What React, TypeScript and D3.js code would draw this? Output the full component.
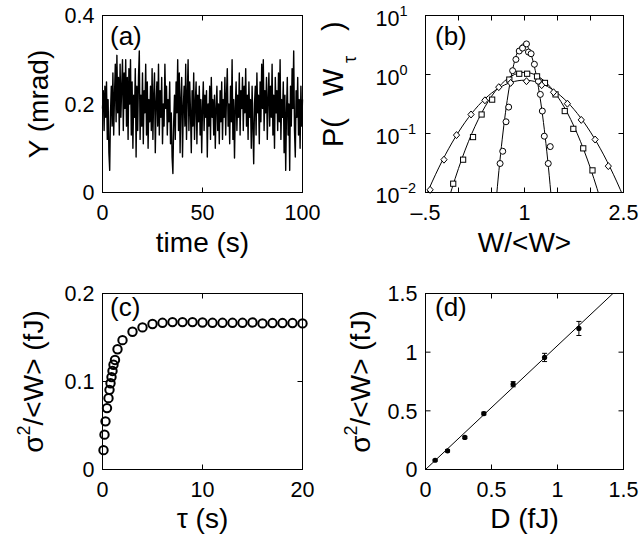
import React from 'react';
import * as d3 from 'd3';

const FONT = '"Liberation Sans", Arial, Helvetica, sans-serif';
const TICK = 5;

// (a) Y(t) trace, one value every 0.4 s
const traceDt = 0.4;
const traceY = [
  0.19, 0.23, 0.14, 0.24, 0.17, 0.25, 0.12, 0.21, 0.09, 0.05,
  0.18, 0.24, 0.15, 0.27, 0.13, 0.22, 0.29, 0.16, 0.31, 0.18,
  0.26, 0.13, 0.29, 0.17, 0.24, 0.30, 0.14, 0.27, 0.19, 0.30,
  0.15, 0.26, 0.12, 0.28, 0.20, 0.30, 0.13, 0.25, 0.10, 0.22,
  0.17, 0.28, 0.08, 0.24, 0.14, 0.26, 0.32, 0.12, 0.22, 0.15,
  0.27, 0.11, 0.23, 0.18, 0.29, 0.13, 0.25, 0.10, 0.21, 0.16,
  0.24, 0.14, 0.28, 0.12, 0.22, 0.27, 0.09, 0.20, 0.25, 0.15,
  0.29, 0.13, 0.23, 0.17, 0.26, 0.11, 0.20, 0.15, 0.29, 0.19,
  0.24, 0.13, 0.21, 0.16, 0.25, 0.11, 0.18, 0.08, 0.043, 0.16,
  0.22, 0.12, 0.25, 0.18, 0.30, 0.14, 0.27, 0.09, 0.21, 0.26,
  0.08, 0.19, 0.24, 0.15, 0.29, 0.12, 0.22, 0.30, 0.14, 0.25,
  0.18, 0.09, 0.23, 0.15, 0.27, 0.12, 0.20, 0.25, 0.11, 0.22,
  0.16, 0.24, 0.13, 0.21, 0.09, 0.19, 0.25, 0.14, 0.22, 0.17,
  0.23, 0.08, 0.20, 0.15, 0.24, 0.12, 0.26, 0.17, 0.21, 0.13,
  0.22, 0.10, 0.19, 0.24, 0.14, 0.20, 0.11, 0.23, 0.16, 0.25,
  0.12, 0.21, 0.17, 0.26, 0.13, 0.22, 0.28, 0.15, 0.20, 0.11,
  0.24, 0.16, 0.30, 0.12, 0.21, 0.078, 0.19, 0.25, 0.14, 0.22,
  0.17, 0.27, 0.13, 0.23, 0.19, 0.26, 0.14, 0.24, 0.18, 0.28,
  0.15, 0.22, 0.12, 0.25, 0.17, 0.21, 0.10, 0.24, 0.15, 0.065,
  0.20, 0.24, 0.13, 0.27, 0.18, 0.22, 0.11, 0.25, 0.16, 0.29,
  0.19, 0.30, 0.14, 0.23, 0.18, 0.26, 0.12, 0.21, 0.27, 0.15,
  0.24, 0.17, 0.29, 0.13, 0.22, 0.10, 0.26, 0.18, 0.23, 0.14,
  0.27, 0.16, 0.30, 0.12, 0.21, 0.17, 0.25, 0.09, 0.22, 0.05,
  0.18, 0.26, 0.13, 0.20, 0.05, 0.24, 0.15, 0.28, 0.19, 0.32,
  0.14, 0.08, 0.23, 0.17, 0.26, 0.13, 0.21, 0.10, 0.24, 0.15, 0.21,
];
const aXTicks = [0, 50, 100];
const aYTicks = [0, 0.2, 0.4];

// (b) P(W_tau), three integration times
const circX = [0.63, 0.67, 0.72, 0.76, 0.82, 0.87, 0.92, 0.97, 1.03, 1.06, 1.10, 1.15, 1.21, 1.24, 1.27, 1.30, 1.36, 1.39];
const circP = [0.031, 0.050, 0.158, 0.28, 1.16, 1.8, 2.5, 2.8, 3.3, 2.4, 2.25, 1.49, 0.77, 0.46, 0.24, 0.090, 0.031, 0.060];
const sqX = [-0.08, 0.07, 0.22, 0.35, 0.51, 0.77, 0.92, 1.04, 1.19, 1.31, 1.47, 1.61, 1.74, 1.89, 2.03];
const sqP = [0.0141, 0.036, 0.087, 0.21, 0.375, 0.82, 1.03, 1.03, 0.93, 0.72, 0.46, 0.24, 0.12, 0.056, 0.0237];
const diaX = [-0.43, -0.22, -0.03, 0.19, 0.40, 0.61, 0.79, 1.03, 1.26, 1.44, 1.65, 1.86, 2.07, 2.27];
const diaP = [0.0111, 0.036, 0.094, 0.21, 0.365, 0.61, 0.72, 0.77, 0.66, 0.50, 0.32, 0.170, 0.079, 0.028];
const fitNarrowX = [0.55, 0.58, 0.60, 0.65, 0.70, 0.75, 0.80, 0.85, 0.90, 0.95, 0.99, 1.05, 1.10, 1.15, 1.20, 1.25, 1.30, 1.35, 1.40, 1.43];
const fitNarrowP = [0.004, 0.0096, 0.0169, 0.060, 0.179, 0.449, 0.948, 1.68, 2.51, 3.14, 3.32, 2.93, 2.18, 1.36, 0.718, 0.317, 0.118, 0.0369, 0.0096, 0.004];
const fitMidX = [-0.25, -0.1, 0, 0.2, 0.4, 0.6, 0.8, 1.0, 1.2, 1.4, 1.6, 1.8, 2.0, 2.1, 2.25];
const fitMidP = [0.0031, 0.0116, 0.0256, 0.0988, 0.282, 0.598, 0.938, 1.09, 0.938, 0.598, 0.282, 0.0988, 0.0256, 0.0116, 0.0031];
const fitWideX = [-0.6, -0.4, -0.2, 0, 0.2, 0.4, 0.6, 0.8, 1.0, 1.2, 1.4, 1.6, 1.8, 2.0, 2.2, 2.4, 2.6];
const fitWideP = [0.0045, 0.0151, 0.0434, 0.1057, 0.219, 0.386, 0.579, 0.738, 0.80, 0.738, 0.579, 0.386, 0.219, 0.1057, 0.0434, 0.0151, 0.0045];
const bXTicks = [-0.5, 0, 0.5, 1, 1.5, 2, 2.5];
const bXLabels: Record<string, string> = { '-0.5': '\u2013.5', '1': '1', '2.5': '2.5' };
const bYTicks = [0.01, 0.1, 1, 10];
const bYExp = ['\u22122', '\u22121', '0', '1'];

// (c) sigma^2/<W> vs tau
const tauS = [0.1, 0.2, 0.3, 0.45, 0.6, 0.7, 0.8, 0.9, 1.0, 1.1, 1.25, 1.5, 2, 3, 4, 5, 6, 7, 8, 9, 10, 11, 12, 13, 14, 15, 16, 17, 18, 19, 20];
const varC = [0.022, 0.0396, 0.0547, 0.0698, 0.0811, 0.0905, 0.098, 0.105, 0.112, 0.119, 0.1245, 0.1366, 0.147, 0.1565, 0.1615, 0.1653,
  0.1667, 0.1675, 0.1675, 0.1675, 0.1671, 0.1667, 0.1667, 0.1667, 0.1667, 0.1671, 0.166, 0.1664, 0.1664, 0.1664, 0.166];
const cXTicks = [0, 10, 20];
const cYTicks = [0, 0.1, 0.2];

// (d) sigma^2/<W> vs D
const dX = [0.073, 0.167, 0.298, 0.442, 0.664, 0.902, 1.162];
const dY = [0.079, 0.159, 0.273, 0.477, 0.727, 0.955, 1.202];
const dErr = [0.008, 0.01, 0.01, 0.012, 0.022, 0.035, 0.06];
const fitDX = [0, 1.42];
const fitDY = [0, 1.5];
const dTicks = [0, 0.5, 1, 1.5];

const PA = { l: 102.5, r: 302.5, t: 15.5, b: 192.5 };
const PB = { l: 425.5, r: 623.5, t: 15.5, b: 192.5 };
const PC = { l: 102.5, r: 302.5, t: 293.5, b: 469.5 };
const PD = { l: 425.5, r: 623.5, t: 293.5, b: 469.5 };

function Frame({ x, y, xTicks, yTicks }: any) {
  const [x0, x1] = x.range();
  const [y0, y1] = y.range();
  return (
    <g stroke="#000" strokeWidth={1} fill="none">
      <rect x={x0} y={y1} width={x1 - x0} height={y0 - y1} />
      {xTicks.map((t: number) => (
        <g key={'x' + t}>
          <line x1={x(t)} x2={x(t)} y1={y0} y2={y0 - TICK} />
          <line x1={x(t)} x2={x(t)} y1={y1} y2={y1 + TICK} />
        </g>
      ))}
      {yTicks.map((t: number) => (
        <g key={'y' + t}>
          <line x1={x0} x2={x0 + TICK} y1={y(t)} y2={y(t)} />
          <line x1={x1} x2={x1 - TICK} y1={y(t)} y2={y(t)} />
        </g>
      ))}
    </g>
  );
}

function TickLabels({ x, y, xTicks, yTicks, xFmt = String, yFmt = String }: any) {
  const [x0] = x.range();
  const [y0] = y.range();
  return (
    <g fontSize={21.5} fill="#000">
      {xTicks.map((t: number) => (
        <text key={'x' + t} x={x(t)} y={y0 + 27} textAnchor="middle">{xFmt(t)}</text>
      ))}
      {yTicks.map((t: number) => (
        <text key={'y' + t} x={x0 - 8} y={y(t)} dy="0.36em" textAnchor="end">{yFmt(t)}</text>
      ))}
    </g>
  );
}

export default function App() {
  // (a)
  const xa = d3.scaleLinear().domain([0, 100]).range([PA.l, PA.r]);
  const ya = d3.scaleLinear().domain([0, 0.4]).range([PA.b, PA.t]);
  const tracePath = d3.line<number>().x((_, i) => xa(i * traceDt)).y((v) => ya(v))(traceY) || '';

  // (b)
  const xb = d3.scaleLinear().domain([-0.5, 2.5]).range([PB.l, PB.r]);
  const yb = d3.scaleLog().domain([0.01, 10]).range([PB.b, PB.t]);
  const fitLine = d3.line<[number, number]>().x((d) => xb(d[0])).y((d) => yb(d[1])).curve(d3.curveMonotoneX);
  const fits = [
    d3.zip(fitNarrowX, fitNarrowP),
    d3.zip(fitMidX, fitMidP),
    d3.zip(fitWideX, fitWideP),
  ] as [number, number][][];

  // (c)
  const xc = d3.scaleLinear().domain([0, 20]).range([PC.l, PC.r]);
  const yc = d3.scaleLinear().domain([0, 0.2]).range([PC.b, PC.t]);

  // (d)
  const xd = d3.scaleLinear().domain([0, 1.5]).range([PD.l, PD.r]);
  const yd = d3.scaleLinear().domain([0, 1.5]).range([PD.b, PD.t]);

  const sigmaLabel = (bx: number, cy: number) => (
    <text transform={`translate(${bx},${cy}) rotate(-90)`} textAnchor="middle" fontSize={28}>
      {'\u03c3'}
      <tspan dy={-13} fontSize={18}>2</tspan>
      <tspan dy={13}>{'/<W> (fJ)'}</tspan>
    </text>
  );

  return (
    <svg width={641} height={542} style={{ position: 'absolute', left: 0, top: 0, background: '#fff' }}
      fontFamily={FONT}>
      <defs>
        <clipPath id="clipB">
          <rect x={PB.l} y={PB.t} width={PB.r - PB.l} height={PB.b - PB.t} />
        </clipPath>
      </defs>

      {/* (a) */}
      <path d={tracePath} fill="none" stroke="#000" strokeWidth={1.4} strokeLinejoin="round" />
      <Frame x={xa} y={ya} xTicks={aXTicks} yTicks={aYTicks} />
      <TickLabels x={xa} y={ya} xTicks={aXTicks} yTicks={aYTicks} />
      <text x={110} y={44.5} fontSize={26}>(a)</text>
      <text x={(PA.l + PA.r) / 2} y={252} textAnchor="middle" fontSize={28}>time (s)</text>
      <text transform={`translate(48,${(PA.t + PA.b) / 2}) rotate(-90)`} textAnchor="middle" fontSize={28}>Y (mrad)</text>

      {/* (b) */}
      <g clipPath="url(#clipB)" fill="none" stroke="#000" strokeWidth={1}>
        {fits.map((f, i) => <path key={i} d={fitLine(f) || ''} />)}
      </g>
      <g fill="#fff" stroke="#000" strokeWidth={1}>
        {circX.map((v, i) => <circle key={'c' + i} cx={xb(v)} cy={yb(circP[i])} r={3} />)}
        {sqX.map((v, i) => <rect key={'s' + i} x={xb(v) - 2.6} y={yb(sqP[i]) - 2.6} width={5.2} height={5.2} />)}
        {diaX.map((v, i) => {
          const cx = xb(v), cy = yb(diaP[i]);
          return <path key={'d' + i} d={`M${cx},${cy - 3.5}L${cx + 3.1},${cy}L${cx},${cy + 3.5}L${cx - 3.1},${cy}Z`} />;
        })}
      </g>
      <Frame x={xb} y={yb} xTicks={bXTicks} yTicks={bYTicks} />
      <g fontSize={21.5}>
        {bXTicks.filter((t) => bXLabels[String(t)]).map((t) => (
          <text key={t} x={xb(t)} y={PB.b + 27} textAnchor="middle">{bXLabels[String(t)]}</text>
        ))}
        {bYTicks.map((t, i) => (
          <text key={t} x={PB.l - 50} y={yb(t) + 10}>
            10<tspan dy={-10} fontSize={14.5}>{bYExp[i]}</tspan>
          </text>
        ))}
      </g>
      <text x={435} y={44.5} fontSize={26}>(b)</text>
      <text x={(PB.l + PB.r) / 2} y={252} textAnchor="middle" fontSize={28}>{'W/<W>'}</text>
      <g fontSize={29}>
        <text transform="translate(342.5,147) rotate(-90)">P(</text>
        <text transform="translate(342.5,96) rotate(-90)">W</text>
        <text transform="translate(356,63) rotate(-90)" fontSize={18}>{'\u03c4'}</text>
        <text transform="translate(342.5,31) rotate(-90)">)</text>
      </g>

      {/* (c) */}
      <Frame x={xc} y={yc} xTicks={cXTicks} yTicks={cYTicks} />
      <g fill="none" stroke="#000" strokeWidth={2}>
        {tauS.map((t, i) => <circle key={i} cx={xc(t)} cy={yc(varC[i])} r={4.2} />)}
      </g>
      <TickLabels x={xc} y={yc} xTicks={cXTicks} yTicks={cYTicks} />
      <text x={110} y={315.5} fontSize={26}>(c)</text>
      <text x={(PC.l + PC.r) / 2} y={528} textAnchor="middle" fontSize={28}>{'\u03c4 (s)'}</text>
      {sigmaLabel(43, (PC.t + PC.b) / 2)}

      {/* (d) */}
      <line x1={xd(fitDX[0])} y1={yd(fitDY[0])} x2={xd(fitDX[1])} y2={yd(fitDY[1])} stroke="#000" strokeWidth={1} />
      <g stroke="#000" strokeWidth={1}>
        {dX.map((v, i) => (
          <g key={i}>
            <line x1={xd(v)} x2={xd(v)} y1={yd(dY[i] - dErr[i])} y2={yd(dY[i] + dErr[i])} />
            <line x1={xd(v) - 2.5} x2={xd(v) + 2.5} y1={yd(dY[i] - dErr[i])} y2={yd(dY[i] - dErr[i])} />
            <line x1={xd(v) - 2.5} x2={xd(v) + 2.5} y1={yd(dY[i] + dErr[i])} y2={yd(dY[i] + dErr[i])} />
          </g>
        ))}
      </g>
      <g fill="#000">
        {dX.map((v, i) => <circle key={i} cx={xd(v)} cy={yd(dY[i])} r={2.6} />)}
      </g>
      <Frame x={xd} y={yd} xTicks={dTicks} yTicks={dTicks} />
      <TickLabels x={xd} y={yd} xTicks={dTicks} yTicks={dTicks} />
      <text x={435} y={316} fontSize={26}>(d)</text>
      <text x={(PD.l + PD.r) / 2} y={528} textAnchor="middle" fontSize={28}>D (fJ)</text>
      {sigmaLabel(370, (PD.t + PD.b) / 2)}
    </svg>
  );
}
